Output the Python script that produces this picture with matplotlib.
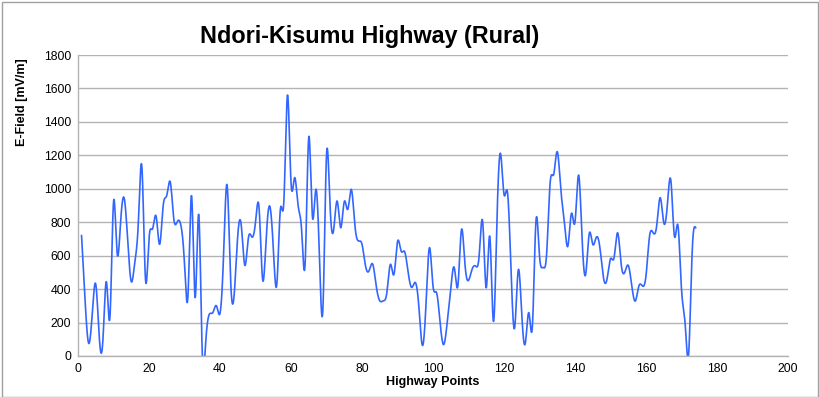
import numpy as np
import matplotlib
matplotlib.use("Agg")
import matplotlib.pyplot as plt
from matplotlib.patches import Rectangle

# E-field readings along the highway, points 1..174
field_mv_m = [
    720, 330, 76, 250, 430, 110, 90, 444, 233, 920,
    620, 800, 945, 690, 445, 560, 800, 1130, 460, 700,
    760, 836, 668, 900, 960, 1040, 817, 805, 780, 550,
    370, 957, 349, 847, 20, 90, 250, 260, 300, 255,
    600, 1022, 450, 370, 720, 780, 542, 707, 711, 800,
    887, 458, 700, 897, 650, 428, 877, 930, 1560, 1040,
    1066, 900, 750, 562, 1309, 841, 996, 600, 289, 1200,
    900, 753, 927, 767, 923, 877, 996, 780, 688, 668,
    538, 510, 550, 420, 330, 330, 379, 548, 488, 684,
    628, 624, 500, 410, 440, 300, 64, 300, 648, 419,
    379, 200, 68, 200, 400, 528, 419, 753, 550, 452,
    518, 538, 600, 801, 408, 714, 209, 800, 1212, 967,
    977, 500, 169, 512, 250, 76, 259, 179, 807, 600,
    530, 608, 1036, 1086, 1222, 996, 800, 658, 853, 801,
    1082, 700, 488, 730, 668, 710, 650, 470, 458, 582,
    588, 737, 550, 500, 542, 419, 329, 419, 419, 480,
    717, 737, 777, 947, 797, 900, 1050, 717, 781, 399,
    200, 10, 620, 767,
]
points = np.arange(1, len(field_mv_m) + 1)

title = "Ndori-Kisumu Highway (Rural)"
x_label = "Highway Points"
y_label = "E-Field [mV/m]"


def natural_spline(x, y, n_per=20):
    """Natural cubic spline through (x, y), the way the office chart smooths lines."""
    x = np.asarray(x, float)
    y = np.asarray(y, float)
    n = len(x)
    h = np.diff(x)
    a = np.zeros((n, n))
    r = np.zeros(n)
    a[0, 0] = a[-1, -1] = 1
    for i in range(1, n - 1):
        a[i, i - 1] = h[i - 1]
        a[i, i] = 2 * (h[i - 1] + h[i])
        a[i, i + 1] = h[i]
        r[i] = 3 * ((y[i + 1] - y[i]) / h[i] - (y[i] - y[i - 1]) / h[i - 1])
    c = np.linalg.solve(a, r)
    xs, ys = [], []
    for i in range(n - 1):
        b = (y[i + 1] - y[i]) / h[i] - h[i] * (2 * c[i] + c[i + 1]) / 3
        d = (c[i + 1] - c[i]) / (3 * h[i])
        t = np.linspace(0, h[i], n_per, endpoint=False)
        xs.append(x[i] + t)
        ys.append(y[i] + b * t + c[i] * t ** 2 + d * t ** 3)
    xs.append([x[-1]])
    ys.append([y[-1]])
    return np.concatenate(xs), np.concatenate(ys)


plt.rcParams['font.family'] = ['Liberation Sans', 'DejaVu Sans']

fig = plt.figure(figsize=(8.2, 3.97), dpi=100)
ax = fig.add_axes([78 / 820, 1 - 356 / 397, 710 / 820, 301 / 397])

sx, sy = natural_spline(points, field_mv_m)
ax.plot(sx, sy, color='#3366ff', linewidth=1.2, clip_on=True)

ax.set_xlim(0, 200)
ax.set_ylim(0, 1800)
ax.set_xticks(range(0, 201, 20))
ax.set_yticks(range(0, 1801, 200))
ax.tick_params(length=0, labelsize=8.8, pad=5)
ax.grid(axis='y', color='#b3b3b3', linewidth=1)
ax.set_axisbelow(True)
for side in ('top', 'right'):
    ax.spines[side].set_visible(False)
for side in ('left', 'bottom'):
    ax.spines[side].set_color('#b3b3b3')
    ax.spines[side].set_linewidth(1)

ax.set_xlabel(x_label, fontsize=9, fontweight='bold', labelpad=1)
ax.set_ylabel(y_label, fontsize=9, fontweight='bold', va='center')
# the office chart puts the y title high up, not mid-axis
ax.yaxis.set_label_coords((22 - 78) / 710, (356 - 102) / 301)

fig.text(370 / 820, 1 - 36 / 397, title, fontsize=16.8, fontweight='bold',
         ha='center', va='center')

# frame round the whole chart
fig.patches.append(Rectangle((0.003, 0.0), 0.994, 0.995, transform=fig.transFigure,
                             fill=False, edgecolor='#a0a0a0', linewidth=1))

fig.savefig('out.png', dpi=100)
